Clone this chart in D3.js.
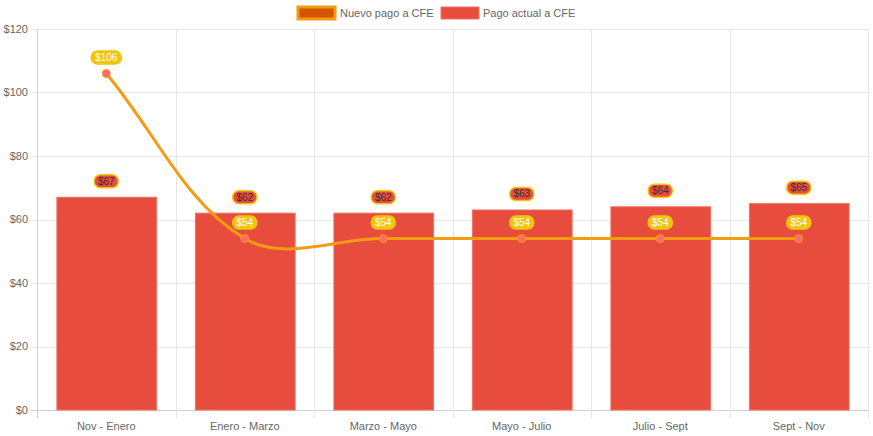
<!DOCTYPE html>
<html>
<head>
<meta charset="utf-8">
<script src="https://cdn.jsdelivr.net/npm/d3@7"></script>
<style>
    body { margin: 0; background: #fff; }
    svg text { font-family: "Liberation Sans", Arial, sans-serif; }
</style>
</head>
<body>
<div id="chart"></div>
<script>
    const categories = ['Nov - Enero', 'Enero - Marzo', 'Marzo - Mayo', 'Mayo - Julio', 'Julio - Sept', 'Sept - Nov'];
    const pagoActual = [67, 62, 62, 63, 64, 65];
    const nuevoPago = [106, 54, 54, 54, 54, 54];
    const yTicks = [0, 20, 40, 60, 80, 100, 120];

    const width = 873, height = 436;
    const margin = {top: 29, right: 5, bottom: 26, left: 37};

    const svg = d3.select('#chart')
        .append('svg')
        .attr('width', width)
        .attr('height', height);

    const x = d3.scaleBand()
        .domain(categories)
        .range([margin.left, width - margin.right]);

    const y = d3.scaleLinear()
        .domain([0, 120])
        .range([height - margin.bottom, margin.top]);

    // grid
    const grid = svg.append('g');
    grid.selectAll('line.h')
        .data(yTicks)
        .join('line')
        .attr('x1', margin.left - 6)
        .attr('x2', width - margin.right)
        .attr('y1', d => Math.round(y(d)) + 0.5)
        .attr('y2', d => Math.round(y(d)) + 0.5)
        .attr('stroke', d => d === 0 ? '#d0d0d0' : '#e6e6e6');

    const bounds = categories.map(c => x(c)).concat([x.range()[1]]);
    grid.selectAll('line.v')
        .data(bounds)
        .join('line')
        .attr('x1', d => Math.round(d) + 0.5)
        .attr('x2', d => Math.round(d) + 0.5)
        .attr('y1', margin.top)
        .attr('y2', height - margin.bottom + 8)
        .attr('stroke', (d, i) => i === 0 ? '#d0d0d0' : '#e6e6e6');

    // y labels
    svg.append('g').selectAll('text')
        .data(yTicks)
        .join('text')
        .attr('x', margin.left - 9)
        .attr('y', d => y(d))
        .attr('dy', '0.35em')
        .attr('text-anchor', 'end')
        .attr('font-size', 11)
        .attr('fill', '#666')
        .text(d => '$' + d);

    // x labels
    svg.append('g').selectAll('text')
        .data(categories)
        .join('text')
        .attr('x', d => x(d) + x.bandwidth() / 2)
        .attr('y', height - margin.bottom + 16)
        .attr('dy', '0.35em')
        .attr('text-anchor', 'middle')
        .attr('font-size', 11)
        .attr('fill', '#666')
        .text(d => d);

    // bars
    const barW = x.bandwidth() * 0.72;
    svg.append('g').selectAll('rect')
        .data(pagoActual)
        .join('rect')
        .attr('x', (d, i) => x(categories[i]) + (x.bandwidth() - barW) / 2 + 0.5)
        .attr('y', d => y(d))
        .attr('width', barW)
        .attr('height', d => y(0) - y(d))
        .attr('fill', '#e74c3c')
        .attr('stroke', '#ee7266')
        .attr('stroke-width', 1);

    // line with chart.js style spline
    const pts = nuevoPago.map((d, i) => ({x: x(categories[i]) + x.bandwidth() / 2, y: y(d)}));
    const t = 0.36;
    pts.forEach((p, i) => {
        const prev = pts[i - 1] || p, next = pts[i + 1] || p;
        const d01 = Math.hypot(p.x - prev.x, p.y - prev.y);
        const d12 = Math.hypot(next.x - p.x, next.y - p.y);
        let s01 = d01 / (d01 + d12), s12 = d12 / (d01 + d12);
        if (isNaN(s01)) s01 = 0;
        if (isNaN(s12)) s12 = 0;
        const fa = t * s01, fb = t * s12;
        p.cpPrev = {x: p.x - fa * (next.x - prev.x), y: p.y - fa * (next.y - prev.y)};
        p.cpNext = {x: p.x + fb * (next.x - prev.x), y: p.y + fb * (next.y - prev.y)};
    });
    const path = d3.path();
    path.moveTo(pts[0].x, pts[0].y);
    for (let i = 1; i < pts.length; i++) {
        path.bezierCurveTo(pts[i - 1].cpNext.x, pts[i - 1].cpNext.y, pts[i].cpPrev.x, pts[i].cpPrev.y, pts[i].x, pts[i].y);
    }
    svg.append('path')
        .attr('d', path.toString())
        .attr('fill', 'none')
        .attr('stroke', '#f39c12')
        .attr('stroke-width', 3);

    svg.append('g').selectAll('circle')
        .data(pts)
        .join('circle')
        .attr('cx', d => d.x)
        .attr('cy', d => d.y)
        .attr('r', 4)
        .attr('fill', '#ff6b6b')
        .attr('stroke', '#f39c12')
        .attr('stroke-width', 1);

    // data labels
    function label(g, cx, cy, txt, bg, border, color) {
        const w = txt.length * 6 + 6, h = 13;
        g.append('rect')
            .attr('x', cx - w / 2)
            .attr('y', cy - h / 2)
            .attr('width', w)
            .attr('height', h)
            .attr('rx', 6)
            .attr('fill', bg)
            .attr('stroke', border)
            .attr('stroke-width', 1.5);
        g.append('text')
            .attr('x', cx)
            .attr('y', cy)
            .attr('dy', '0.35em')
            .attr('text-anchor', 'middle')
            .attr('font-size', 10)
            .attr('fill', color)
            .text(txt);
    }

    const labels = svg.append('g');
    pagoActual.forEach((d, i) => {
        label(labels, x(categories[i]) + x.bandwidth() / 2, y(d) - 16, '$' + d, '#e74c3c', '#f1c40f', '#333');
    });
    pts.forEach((p, i) => {
        label(labels, p.x, p.y - 16, '$' + nuevoPago[i], '#f1c40f', '#f1c40f', '#fff');
    });

    // legend
    const legend = svg.append('g').attr('font-size', 11).attr('fill', '#666');
    legend.append('rect')
        .attr('x', 298).attr('y', 7).attr('width', 37).attr('height', 12)
        .attr('fill', '#d35400').attr('stroke', '#f39c12').attr('stroke-width', 3);
    legend.append('text').attr('x', 340).attr('y', 13).attr('dy', '0.35em').attr('fill', '#666').text('Nuevo pago a CFE');
    legend.append('rect')
        .attr('x', 441).attr('y', 7).attr('width', 38).attr('height', 12)
        .attr('fill', '#e74c3c').attr('stroke', '#ee7266').attr('stroke-width', 1);
    legend.append('text').attr('x', 483).attr('y', 13).attr('dy', '0.35em').attr('fill', '#666').text('Pago actual a CFE');
</script>
</body>
</html>
